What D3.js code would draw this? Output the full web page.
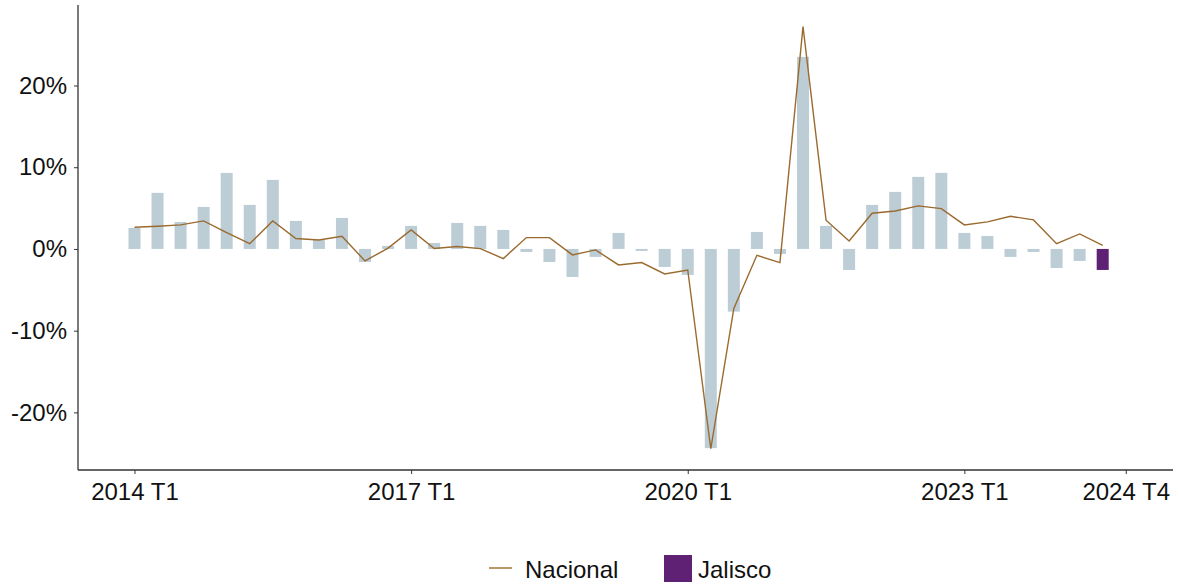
<!DOCTYPE html>
<html>
<head>
<meta charset="utf-8">
<script src="https://cdn.jsdelivr.net/npm/d3@7"></script>
<style>
  html, body { margin: 0; padding: 0; background: #ffffff; }
  svg text { font-family: "Liberation Sans", Arial, sans-serif; fill: #111; }
</style>
</head>
<body>
<svg id="chart" width="1179" height="585"></svg>
<script>
// Quarter labels (axis runs to 2024 T4)
const quarters = [
  "2014 T1","2014 T2","2014 T3","2014 T4",
  "2015 T1","2015 T2","2015 T3","2015 T4",
  "2016 T1","2016 T2","2016 T3","2016 T4",
  "2017 T1","2017 T2","2017 T3","2017 T4",
  "2018 T1","2018 T2","2018 T3","2018 T4",
  "2019 T1","2019 T2","2019 T3","2019 T4",
  "2020 T1","2020 T2","2020 T3","2020 T4",
  "2021 T1","2021 T2","2021 T3","2021 T4",
  "2022 T1","2022 T2","2022 T3","2022 T4",
  "2023 T1","2023 T2","2023 T3","2023 T4",
  "2024 T1","2024 T2","2024 T3","2024 T4"
];

// Jalisco (bars), % annual variation
const jalisco = [
  2.57, 6.86, 3.30, 5.14,
  9.30, 5.39, 8.45, 3.43,
  1.10, 3.80, -1.60, 0.37,
  2.82, 0.73, 3.18, 2.82,
  2.33, -0.37, -1.60, -3.43,
  -0.98, 1.96, -0.24, -2.20,
  -3.18, -24.37, -7.67, 2.08,
  -0.61, 23.50, 2.82, -2.57,
  5.39, 6.98, 8.82, 9.31,
  1.96, 1.59, -0.98, -0.37,
  -2.33, -1.47, -2.57
];

// Nacional (line), % annual variation
const nacional = [
  2.65, 2.78, 2.94, 3.43,
  2.00, 0.65, 3.43, 1.27,
  1.10, 1.55, -1.47, 0.10,
  2.33, 0.05, 0.29, 0.04,
  -1.18, 1.39, 1.39, -0.73,
  -0.12, -1.96, -1.67, -3.06,
  -2.57, -24.45, -7.27, -0.78,
  -1.67, 27.20, 3.51, 0.98,
  4.37, 4.65, 5.27, 4.94,
  2.94, 3.31, 4.00, 3.55,
  0.65, 1.84, 0.45
];

const xTickLabels = ["2014 T1", "2017 T1", "2020 T1", "2023 T1", "2024 T4"];
const yTicks = [-20, -10, 0, 10, 20];

const seriesNames = ["Nacional", "Jalisco"];
const colors = { bar: "#bccdd6", highlight: "#5e2174", line: "#9a6a2e", axis: "#333333" };

const svg = d3.select("#chart");
const mLeft = 78, mRight = 1173, mTop = 5, mBottom = 470;
const fs = "24px";

const x = d3.scaleLinear().domain([-2.45, 45.05]).range([mLeft, mRight]);
const y = d3.scaleLinear().domain([-27.05, 29.85]).range([mBottom, mTop]);
const barW = 12;

const g = svg.append("g");

// Bars
g.selectAll("rect.bar")
  .data(jalisco)
  .enter().append("rect")
  .attr("class", "bar")
  .attr("x", (d, i) => x(i) - barW / 2)
  .attr("width", barW)
  .attr("y", d => y(Math.max(0, d)))
  .attr("height", d => Math.abs(y(d) - y(0)))
  .attr("fill", (d, i) => i === jalisco.length - 1 ? colors.highlight : colors.bar);

// Line
const line = d3.line().x((d, i) => x(i)).y(d => y(d));
g.append("path")
  .datum(nacional)
  .attr("d", line)
  .attr("fill", "none")
  .attr("stroke", colors.line)
  .attr("stroke-width", 1.4)
  .attr("stroke-linejoin", "miter");

// Y axis
const yAxis = d3.axisLeft(y).tickValues(yTicks).tickSize(4).tickPadding(7)
  .tickFormat(d => d + "%");
const ya = svg.append("g").attr("transform", `translate(${mLeft},0)`).call(yAxis);
ya.select(".domain").attr("stroke", colors.axis).attr("stroke-width", 1.3)
  .attr("d", `M0,${mTop}V${mBottom}`);
ya.selectAll(".tick line").attr("stroke", colors.axis);
ya.selectAll(".tick text").style("font-size", fs).attr("fill", "#111")
  .style("font-family", "'Liberation Sans', Arial, sans-serif");

// X axis
const tickIdx = xTickLabels.map(l => quarters.indexOf(l));
const xAxis = d3.axisBottom(x).tickValues(tickIdx).tickSize(4).tickPadding(9)
  .tickFormat(d => quarters[d]);
const xa = svg.append("g").attr("transform", `translate(0,${mBottom})`).call(xAxis);
xa.select(".domain").attr("stroke", colors.axis).attr("stroke-width", 1.3)
  .attr("d", `M${mLeft},0H${mRight}`);
xa.selectAll(".tick line").attr("stroke", colors.axis);
xa.selectAll(".tick text").style("font-size", fs).attr("fill", "#111")
  .style("font-family", "'Liberation Sans', Arial, sans-serif");

// Legend
const lg = svg.append("g");
lg.append("line").attr("x1", 489).attr("x2", 512).attr("y1", 568).attr("y2", 568)
  .attr("stroke", colors.line).attr("stroke-width", 1.4);
lg.append("text").attr("x", 525).attr("y", 570).attr("dy", "0.35em")
  .style("font-size", fs).text(seriesNames[0]);
lg.append("rect").attr("x", 664).attr("y", 555).attr("width", 28).attr("height", 27)
  .attr("fill", colors.highlight);
lg.append("text").attr("x", 698).attr("y", 570).attr("dy", "0.35em")
  .style("font-size", fs).text(seriesNames[1]);
</script>
</body>
</html>
